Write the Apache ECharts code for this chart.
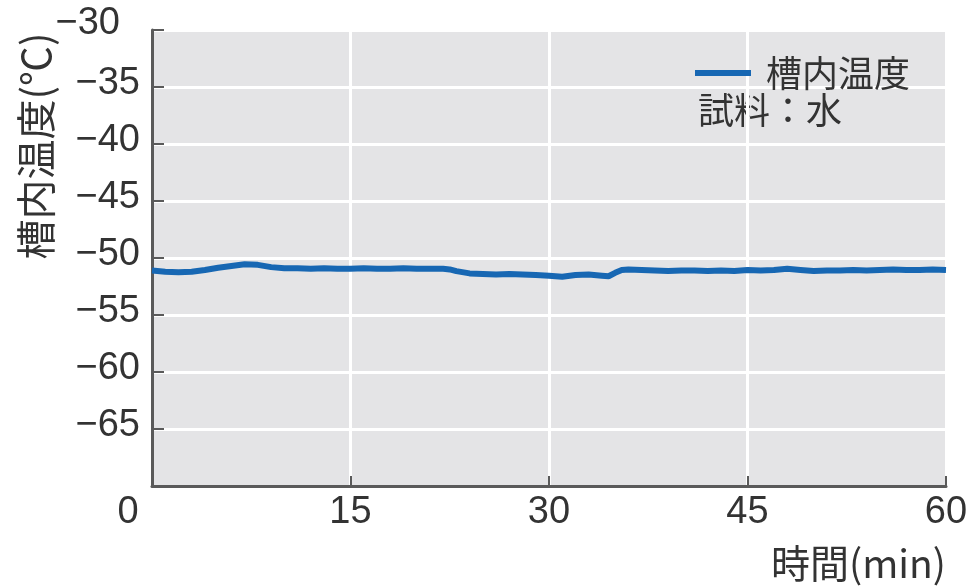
<!DOCTYPE html>
<html><head><meta charset="utf-8">
<script src="https://cdn.jsdelivr.net/npm/echarts@6/dist/echarts.min.js"></script>
<style>html,body{margin:0;padding:0;background:#fff}#c{width:978px;height:586px}</style>
</head><body><div id="c"></div>
<script>
const timeMin = [0,1,2,3,4,5,6,7,8,9,10,11,12,13,14,15,16,17,18,19,20,21,22,22.5,23,24,25,26,27,28,29,30,31,32,33,34,34.5,35,35.5,36,37,38,39,40,41,42,43,44,45,46,47,48,49,50,51,52,53,54,55,56,57,58,59,60];
const tempC = [-51.1,-51.2,-51.25,-51.2,-51.05,-50.85,-50.7,-50.55,-50.6,-50.8,-50.9,-50.9,-50.95,-50.9,-50.95,-50.95,-50.9,-50.95,-50.95,-50.9,-50.95,-50.95,-50.95,-51.0,-51.15,-51.35,-51.4,-51.45,-51.4,-51.45,-51.5,-51.55,-51.65,-51.5,-51.45,-51.55,-51.6,-51.3,-51.05,-51.0,-51.05,-51.1,-51.15,-51.1,-51.1,-51.15,-51.1,-51.15,-51.05,-51.1,-51.05,-50.95,-51.05,-51.15,-51.1,-51.1,-51.05,-51.1,-51.05,-51.0,-51.05,-51.05,-51.0,-51.05];
const xTicks = [0,15,30,45,60];
const yTicks = [-70,-65,-60,-55,-50,-45,-40,-35,-30];
const seriesName = '槽内温度';
const yTitle = '槽内温度(℃)';
const xTitle = '時間(min)';
const note = '試料：水';

const txt = '#333333';
const font = '"Liberation Sans", Arial, sans-serif';
const cjk = '"Noto Sans CJK JP", sans-serif';
const chart = echarts.init(document.getElementById('c'));
chart.setOption({
  animation: false,
  backgroundColor: '#fff',
  grid: {left: 152, right: 32, top: 30, bottom: 100, show: true, backgroundColor: '#e4e4e6', borderWidth: 0},
  legend: {
    data: [seriesName], left: 690, top: 50, itemWidth: 56, itemHeight: 6, icon: 'rect', itemGap: 10,
    textStyle: {fontSize: 36, color: txt, fontFamily: cjk, padding: [0, 0, 0, 10]}
  },
  graphic: [
    {type: 'text', left: 698, top: 92, style: {text: note, fontSize: 36, fill: txt, fontFamily: cjk}},
    {type: 'text', x: 36, y: 146, rotation: Math.PI/2, style: {text: yTitle, fontSize: 40, fill: txt, fontFamily: cjk, align: 'center', verticalAlign: 'middle'}}
  ],
  xAxis: {
    type: 'value', min: xTicks[0], max: xTicks[xTicks.length-1], interval: 15,
    name: xTitle, nameLocation: 'end', nameGap: 0,
    nameTextStyle: {fontSize: 39, color: txt, fontFamily: cjk, align: 'right', verticalAlign: 'top', padding: [58, 0, 0, 0]},
    axisLine: {lineStyle: {color: '#5a5a5a', width: 3}},
    axisTick: {inside: true, length: 10, lineStyle: {color: '#5a5a5a', width: 2}},
    axisLabel: {
      fontSize: 38, color: txt, fontFamily: font, margin: 8,
      formatter: v => v === 0 ? '{z|0}' : String(v),
      rich: {z: {fontSize: 38, color: txt, fontFamily: font, padding: [0, 48, 0, 0]}}
    },
    splitLine: {show: true, lineStyle: {color: '#ffffff', width: 3}}
  },
  yAxis: {
    type: 'value', min: yTicks[0], max: yTicks[yTicks.length-1], interval: 5,
    axisLine: {show: true, lineStyle: {color: '#5a5a5a', width: 3}},
    axisTick: {show: true, inside: true, length: 12, lineStyle: {color: '#5a5a5a', width: 2}},
    axisLabel: {
      fontSize: 38, color: txt, fontFamily: font, margin: 12,
      formatter: v => v === -70 ? '' : (v === -30 ? '{t|−30}' : '{n|−' + Math.abs(v) + '}'),
      rich: {
        t: {fontSize: 38, color: txt, fontFamily: font, padding: [0, 20, 12, 0]},
        n: {fontSize: 38, color: txt, fontFamily: font, padding: [0, 0, 7, 0]}
      }
    },
    splitLine: {show: true, lineStyle: {color: '#ffffff', width: 3}}
  },
  series: [{
    name: seriesName, type: 'line', showSymbol: false, smooth: false,
    data: timeMin.map((t, i) => [t, tempC[i]]),
    lineStyle: {color: '#1767b3', width: 6}, itemStyle: {color: '#1767b3'}
  }]
});
</script></body></html>
